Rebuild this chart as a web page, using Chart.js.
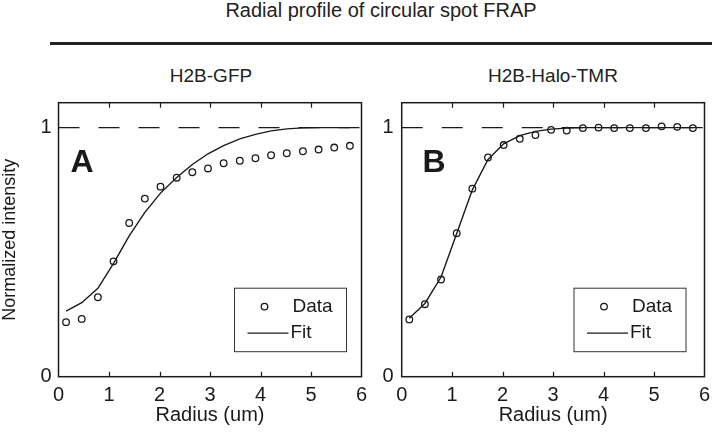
<!DOCTYPE html>
<html>
<head>
<meta charset="utf-8">
<script src="https://cdn.jsdelivr.net/npm/chart.js@4"></script>
<style>
  body { margin: 0; background: #fff; }
  #page { position: relative; width: 712px; height: 436px; overflow: hidden;
          font-family: "Liberation Sans", Arial, sans-serif; color: #222; }
  .lbl { position: absolute; font-size: 19px; line-height: 20px; white-space: nowrap; transform: translateX(-50%); }
  #rule { position: absolute; left: 50px; top: 41.5px; width: 662px; height: 3.5px; background: #222; }
  canvas { position: absolute; top: 90px; }
</style>
</head>
<body>
<div id="page">
  <div class="lbl" style="left:381px; top:0px; font-size:20px;">Radial profile of circular spot FRAP</div>
  <div id="rule"></div>
  <div class="lbl" style="left:211px; top:66px;">H2B-GFP</div>
  <div class="lbl" style="left:553px; top:66px;">H2B-Halo-TMR</div>
  <canvas id="chartA" width="372" height="346" style="left:0px;"></canvas>
  <canvas id="chartB" width="340" height="346" style="left:372px;"></canvas>
</div>
<script>
// radial positions (um), shared by both panels
const radius = [0.15, 0.46, 0.78, 1.09, 1.40, 1.71, 2.02, 2.34, 2.65, 2.96,
                3.27, 3.59, 3.90, 4.21, 4.52, 4.84, 5.15, 5.46, 5.77];

// H2B-GFP
const gfpData = [0.219, 0.232, 0.319, 0.463, 0.617, 0.715, 0.763, 0.799, 0.821, 0.836,
                 0.857, 0.867, 0.877, 0.889, 0.897, 0.905, 0.912, 0.920, 0.927];
const gfpFit = [0.263, 0.297, 0.355, 0.455, 0.565, 0.660, 0.737, 0.800, 0.852, 0.895,
                0.928, 0.955, 0.973, 0.987, 0.995, 0.999, 1.0, 1.0, 1.0];

// H2B-Halo-TMR
const haloData = [0.230, 0.291, 0.390, 0.576, 0.755, 0.880, 0.930, 0.955, 0.970, 0.991,
                  0.988, 0.998, 1.0, 0.998, 0.998, 0.998, 1.005, 1.003, 0.998];
const haloFit = [0.235, 0.294, 0.400, 0.575, 0.750, 0.872, 0.935, 0.968, 0.985, 0.994,
                 0.998, 1.0, 1.0, 1.0, 1.0, 1.0, 1.0, 1.0, 1.0];

const xTicks = [0, 1, 2, 3, 4, 5, 6];
const yTicks = [0, 1];
const refLevel = 1;

const FONT = '"Liberation Sans", Arial, sans-serif';
const INK = "#1a1a1a";

const toPoints = (vals) => vals.map((v, i) => ({ x: radius[i], y: v }));

// label overflow should not shrink the plot box
const noPad = (s) => {
  s.paddingTop = 0;
  s.paddingBottom = 0;
  s.paddingLeft = 0;
  s.paddingRight = 0;
};

// box, inward ticks, panel letter and legend
const framePlugin = {
  id: "frame",
  afterDatasetsDraw(chart, args, opts) {
    const { ctx, chartArea: a } = chart;
    const x = chart.scales.x;
    const y = chart.scales.y;
    ctx.save();
    ctx.strokeStyle = INK;
    ctx.lineWidth = 1.5;
    ctx.strokeRect(a.left, a.top, a.right - a.left, a.bottom - a.top);

    ctx.lineWidth = 1.2;
    xTicks.slice(1, -1).forEach((v) => {
      const px = Math.round(x.getPixelForValue(v)) + 0.5;
      ctx.beginPath();
      ctx.moveTo(px, a.bottom);
      ctx.lineTo(px, a.bottom - 5);
      ctx.moveTo(px, a.top);
      ctx.lineTo(px, a.top + 5);
      ctx.stroke();
    });

    ctx.fillStyle = INK;
    ctx.font = "bold 32px " + FONT;
    ctx.textBaseline = "alphabetic";
    ctx.textAlign = "left";
    ctx.fillText(opts.letter, x.getPixelForValue(opts.letterX), y.getPixelForValue(opts.letterY));

    // legend box
    const w = 112, h = 63.5;
    const bx = a.right - opts.legRight - w;
    const by = a.bottom - 25 - h;
    ctx.lineWidth = 1;
    ctx.strokeStyle = "#333";
    ctx.strokeRect(bx, by, w, h);
    const ds = chart.data.datasets;
    ctx.strokeStyle = INK;
    ctx.lineWidth = 1.3;
    ctx.beginPath();
    ctx.arc(bx + 30, by + 18.4, 3.3, 0, Math.PI * 2);
    ctx.stroke();
    ctx.beginPath();
    ctx.moveTo(bx + 13, by + 45);
    ctx.lineTo(bx + 54, by + 45);
    ctx.stroke();
    ctx.font = "19px " + FONT;
    ctx.textBaseline = "middle";
    ctx.fillText(ds[0].label, bx + 58, by + 18.4);
    ctx.fillText(ds[1].label, bx + 56, by + 45);
    ctx.restore();
  },
};

function makePanel(id, dataVals, fitVals, cfg) {
  return new Chart(document.getElementById(id), {
    type: "scatter",
    data: {
      datasets: [
        {
          label: "Data",
          data: toPoints(dataVals),
          pointStyle: "circle",
          pointRadius: 3.3,
          pointBorderWidth: 1.3,
          borderColor: INK,
          backgroundColor: "rgba(0,0,0,0)",
          showLine: false,
        },
        {
          label: "Fit",
          data: toPoints(fitVals),
          showLine: true,
          borderColor: INK,
          borderWidth: 1.4,
          pointRadius: 0,
          tension: 0,
        },
        {
          label: "ref",
          data: [{ x: xTicks[0], y: refLevel }, { x: xTicks[xTicks.length - 1], y: refLevel }],
          showLine: true,
          borderColor: INK,
          borderWidth: 1.3,
          borderDash: [21, 19],
          pointRadius: 0,
        },
      ],
    },
    options: {
      responsive: false,
      animation: false,
      devicePixelRatio: 1,
      layout: { padding: { top: 12.7, right: cfg.padRight, left: 0, bottom: 0 } },
      scales: {
        x: {
          type: "linear",
          min: 0,
          max: 6,
          afterBuildTicks: (s) => { s.ticks = xTicks.map((v) => ({ value: v })); },
          afterFit: (s) => { s.height = 59.3; noPad(s); },
          grid: { display: false, drawTicks: false },
          border: { display: false },
          ticks: { color: INK, font: { family: FONT, size: 20 }, padding: 7, maxRotation: 0 },
          title: {
            display: true,
            text: "Radius (um)",
            color: INK,
            font: { family: FONT, size: 20 },
            padding: { top: 0, bottom: 9 },
          },
        },
        y: {
          type: "linear",
          min: 0,
          max: 1.1,
          afterBuildTicks: (s) => { s.ticks = yTicks.map((v) => ({ value: v })); },
          afterFit: (s) => { s.width = cfg.yWidth; noPad(s); },
          grid: { display: false, drawTicks: false },
          border: { display: false },
          ticks: { color: INK, font: { family: FONT, size: 20 }, padding: cfg.yPad },
          title: {
            display: cfg.yTitle,
            text: "Normalized intensity",
            color: INK,
            font: { family: FONT, size: 18, lineHeight: 1 },
            padding: { top: 1, bottom: 0 },
          },
        },
      },
      plugins: {
        legend: { display: false },
        tooltip: { enabled: false },
        frame: { letter: cfg.letter, letterX: cfg.letterX, letterY: 0.82, legRight: cfg.legRight },
      },
    },
    plugins: [framePlugin],
  });
}

makePanel("chartA", gfpData, gfpFit, {
  padRight: 10.5, yWidth: 58.5, yPad: 7, yTitle: true,
  letter: "A", letterX: 0.24, legRight: 15,
});
makePanel("chartB", haloData, haloFit, {
  padRight: 7.5, yWidth: 29.7, yPad: 8, yTitle: false,
  letter: "B", letterX: 0.41, legRight: 18.5,
});
</script>
</body>
</html>
